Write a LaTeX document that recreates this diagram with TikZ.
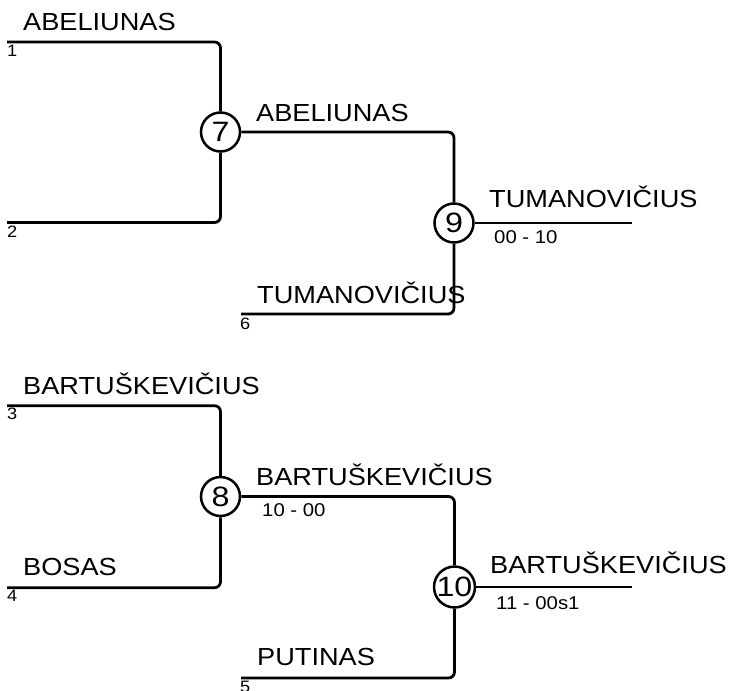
\documentclass[tikz,border=0pt]{standalone}
\usepackage{fontspec}
\setmainfont{Liberation Sans}
\newfontfamily\namefont{Liberation Sans}[FakeStretch=1.1]
\newfontfamily\smallfont{Liberation Sans}[FakeStretch=1.1]
\newfontfamily\circfont{Liberation Sans}[FakeStretch=1.15]
\tikzset{
  bline/.style={line width=2.8pt, rounded corners=6pt},
  pname/.style={anchor=base west, inner sep=0pt, font=\namefont\fontsize{24.7}{28}\selectfont},
  score/.style={anchor=base west, inner sep=0pt, font=\smallfont\fontsize{18.5}{21}\selectfont},
  seed/.style={anchor=base west, inner sep=0pt, font=\smallfont\fontsize{16.5}{19}\selectfont},
  match/.style={circle, draw, line width=2.5pt, minimum size=39pt, inner sep=0pt, fill=white, font=\circfont\fontsize{28}{30}\selectfont},
}
\begin{document}
\begin{tikzpicture}[x=1pt,y=-1pt]
\useasboundingbox (0,0) rectangle (729,691);
% match nodes
\node[match] (m7) at (220.5,132) {7};
\node[match] (m9) at (454,223) {9};
\node[match] (m8) at (220.5,496.5) {8};
\node[match] (m10) at (454.5,587) {10};
% line start coordinates
\coordinate (p1) at (7,42);
\coordinate (p2) at (7,222.5);
\coordinate (p6) at (241,314);
\coordinate (w9) at (632,223);
\coordinate (p3) at (7,405.7);
\coordinate (p4) at (7,587.7);
\coordinate (p5) at (241,678);
\coordinate (w10) at (632,587);
% connectors
\draw[bline] (p1) -| (m7.north);
\draw[bline] (p2) -| (m7.south);
\draw[bline] (m7.east) -| (m9.north);
\draw[bline] (p6) -| (m9.south);
\draw[bline] (m9.east) -- (w9);
\draw[bline] (p3) -| (m8.north);
\draw[bline] (p4) -| (m8.south);
\draw[bline] (m8.east) -| (m10.north);
\draw[bline] (p5) -| (m10.south);
\draw[bline] (m10.east) -- (w10);
% names
\node[pname] (n1) at (23,30.5) {ABELIUNAS};
\node[pname] (n7) at (256,121.7) {ABELIUNAS};
\node[pname] (n6) at (257,303) {TUMANOVIČIUS};
\node[pname] (n9) at (489,207) {TUMANOVIČIUS};
\node[pname] (n3) at (23,394) {BARTUŠKEVIČIUS};
\node[pname] (n4) at (23,575) {BOSAS};
\node[pname] (n8) at (256,485) {BARTUŠKEVIČIUS};
\node[pname] (n5) at (257,665) {PUTINAS};
\node[pname] (n10) at (490,573) {BARTUŠKEVIČIUS};
% scores
\node[score] (s9) at (494,243.5) {00 - 10};
\node[score] (s8) at (262,516.5) {10 - 00};
\node[score] (s10) at (496,609.5) {11 - 00s1};
% seeds
\node[seed] (q1) at (7,56) {1};
\node[seed] (q2) at (7,237) {2};
\node[seed] (q3) at (7,419.3) {3};
\node[seed] (q4) at (7,601.5) {4};
\node[seed] (q6) at (240,329) {6};
\node[seed] (q5) at (240,692) {5};
\end{tikzpicture}
\end{document}
